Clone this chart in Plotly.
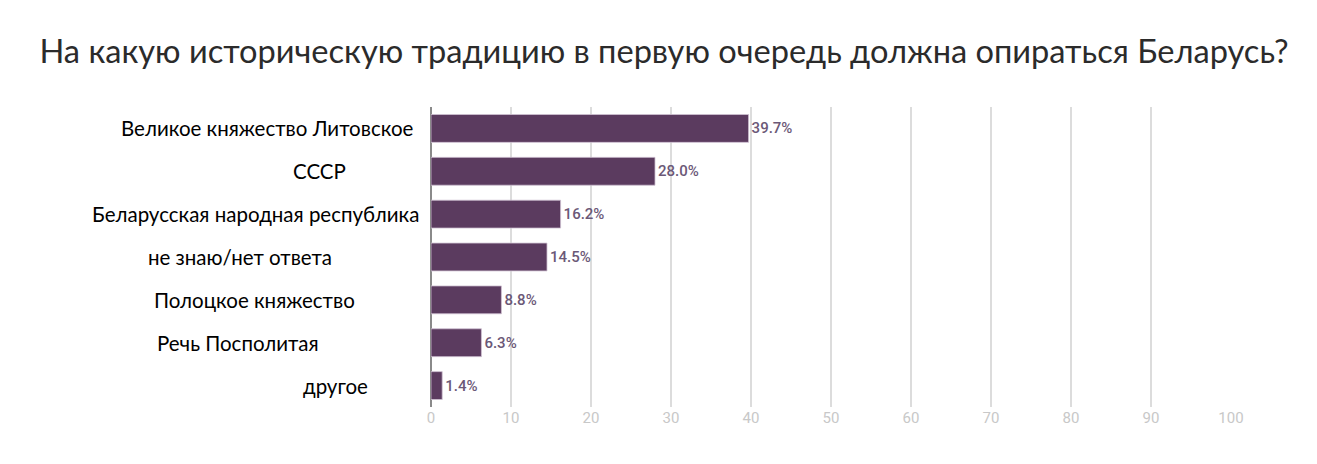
import plotly.graph_objects as go

categories = [
    "Великое княжество Литовское",
    "СССР",
    "Беларусская народная республика",
    "не знаю/нет ответа",
    "Полоцкое княжество",
    "Речь Посполитая",
    "другое",
]
values = [39.7, 28.0, 16.2, 14.5, 8.8, 6.3, 1.4]
tick_vals = [0, 10, 20, 30, 40, 50, 60, 70, 80, 90, 100]

# horizontal pixel centres of the pasted category labels (layout only, page px)
label_centers_px = [267.5, 319.5, 255, 240, 254.5, 237.5, 335.5]

OFF = 8  # page body margin
W, H = 1317 - OFF, 464 - OFF
L = 431 - OFF
PW = 800
R = W - L - PW
T = 107 - OFF
B = H - (407 - OFF)

fig = go.Figure()
fig.add_trace(go.Bar(
    x=values, y=categories, orientation="h",
    marker=dict(color="#5b3b5f", line=dict(color="#cfc2d2", width=0.8)),
    width=0.65,
    text=[f"{v:.1f}%" for v in values],
    textposition="outside",
    textfont=dict(family="Roboto", size=15, color="#6b5877", weight=500),
    cliponaxis=False,
))

for cat, px in zip(categories, label_centers_px):
    fig.add_annotation(
        x=(px - OFF - L) / PW, xref="paper", y=cat, yref="y",
        text=cat, showarrow=False, xanchor="center", yanchor="middle",
        font=dict(family="Lato", size=20.5, color="#000000"),
    )

fig.update_layout(
    width=W, height=H,
    margin=dict(l=L, r=R, t=T, b=B),
    paper_bgcolor="white", plot_bgcolor="white",
    title=dict(
        text="На какую историческую традицию в первую очередь должна опираться Беларусь?",
        x=(664 - OFF) / W, xanchor="center", y=1 - (52 - OFF) / H, yanchor="middle",
        font=dict(family="Lato", size=32.6, color="#2b2b2b"),
    ),
    showlegend=False,
)
fig.update_xaxes(
    range=[0, 100], tickvals=tick_vals,
    showgrid=True, gridcolor="#dcdcdc", gridwidth=1.5,
    zeroline=True, zerolinecolor="#8a8a8a", zerolinewidth=2,
    tickfont=dict(family="Roboto", size=15, color="#c8c8c8"),
    showline=False, ticks="",
)
fig.update_yaxes(
    categoryorder="array", categoryarray=categories, autorange="reversed",
    showticklabels=False, showgrid=False, zeroline=False, showline=False,
)

fig.write_html("out.html")
